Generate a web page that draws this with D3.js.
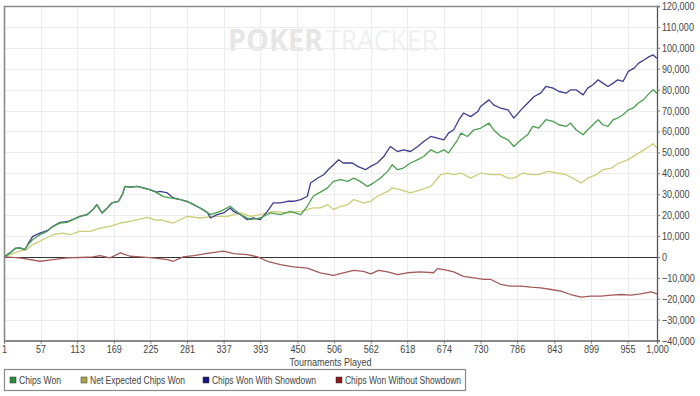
<!DOCTYPE html>
<html>
<head>
<meta charset="utf-8">
<script src="https://d3js.org/d3.v7.min.js"></script>
<style>
  html, body { margin: 0; padding: 0; background: #fff; }
  svg { display: block; font-family: "Liberation Sans", Arial, sans-serif; }
</style>
</head>
<body>
<script>
(function () {
    'use strict';

    // tournament number, chips
    var chipsWon = [
        [1, 0], [10, 1900], [18, 4000], [25, 4300], [33, 3500], [38, 5900], [45, 8300], [56, 10600],
        [67, 12200], [76, 14600], [87, 16200], [97, 16500], [107, 17800], [117, 19400], [128, 20200],
        [137, 22600], [143, 25000], [151, 21000], [159, 23400], [166, 25800], [176, 26600], [182, 29700],
        [186, 33700], [194, 33400], [205, 33700], [214, 33000], [225, 32100], [235, 30600], [245, 28800],
        [255, 28200], [271, 27400], [286, 25800], [301, 23400], [317, 20200], [332, 21800], [347, 24200],
        [363, 20200], [378, 17800], [393, 18600], [409, 21000], [424, 20200], [439, 21800], [455, 20200],
        [465, 24200], [474, 29000], [485, 31000], [496, 33000], [505, 36100], [516, 36900], [527, 36100],
        [536, 37700], [546, 36100], [557, 33700], [566, 35300], [577, 37700], [588, 40900], [595, 44100],
        [603, 41700], [612, 42500], [623, 44900], [634, 46500], [643, 48000], [654, 51200], [664, 49700],
        [674, 51200], [681, 49700], [695, 56000], [700, 59200], [710, 57600], [720, 60800], [730, 61500],
        [743, 64000], [750, 60800], [761, 57600], [772, 56000], [781, 52800], [792, 56000], [802, 58400],
        [810, 62400], [819, 61600], [830, 65600], [841, 64800], [850, 63200], [861, 62400], [868, 64000],
        [876, 60800], [887, 58400], [894, 60800], [902, 63200], [910, 65600], [917, 63200], [925, 62400],
        [933, 65600], [940, 66400], [948, 68000], [956, 70300], [963, 71100], [971, 73500], [979, 75100],
        [986, 77500], [994, 79900], [1000, 78300]
    ];

    var netExpected = [
        [1, 0], [10, 1100], [25, 2700], [36, 3500], [45, 5900], [61, 8300], [76, 10600], [91, 11400],
        [102, 10600], [117, 12200], [133, 12200], [148, 13800], [163, 14600], [179, 16200], [194, 17000],
        [209, 18100], [220, 18900], [235, 17500], [240, 17800], [260, 16200], [281, 19400], [301, 18600],
        [321, 19400], [343, 19400], [363, 21000], [378, 19400], [393, 20200], [413, 21800], [435, 21000],
        [455, 21800], [474, 23400], [485, 23400], [496, 25000], [505, 22600], [516, 24200], [527, 25000],
        [536, 27400], [551, 25800], [562, 26600], [572, 29000], [588, 31300], [595, 33000], [608, 32100],
        [623, 30600], [638, 32100], [654, 33700], [669, 39300], [680, 40100], [689, 39300], [700, 40100],
        [715, 37700], [730, 40100], [746, 39300], [761, 39300], [772, 37700], [781, 37700], [795, 40100],
        [807, 39300], [819, 39300], [833, 40900], [848, 40100], [861, 39300], [871, 37700], [884, 35300],
        [894, 37700], [907, 39300], [917, 41700], [930, 42500], [942, 44900], [956, 46500], [968, 48900],
        [980, 51200], [994, 54100], [1000, 52100]
    ];

    var withShowdown = [
        [1, 0], [10, 1900], [18, 4000], [25, 4300], [33, 3500], [38, 6300], [45, 9800], [56, 11400],
        [67, 12500], [76, 14600], [87, 16500], [97, 16800], [107, 18000], [117, 19400], [128, 20200],
        [137, 22600], [143, 25000], [151, 21000], [159, 23400], [166, 25800], [176, 26600], [182, 29700],
        [186, 33700], [194, 33400], [205, 33700], [214, 33000], [225, 32100], [235, 31000], [240, 31300],
        [251, 30600], [260, 28200], [271, 27400], [281, 26600], [291, 25000], [301, 23400], [312, 21300],
        [317, 18600], [327, 20200], [337, 21000], [347, 23400], [352, 21800], [363, 20200], [373, 17800],
        [383, 18600], [393, 17800], [404, 21800], [413, 25800], [424, 25800], [435, 26600], [444, 26600],
        [455, 27400], [465, 29000], [470, 35300], [481, 37700], [490, 39300], [497, 41700], [505, 44100],
        [513, 46500], [520, 44900], [534, 44900], [542, 43300], [554, 41700], [562, 43300], [572, 44900],
        [582, 48000], [592, 52800], [603, 50400], [612, 51200], [623, 50400], [634, 52800], [643, 55200],
        [654, 57600], [664, 56800], [674, 56000], [681, 59200], [689, 60800], [697, 65600], [704, 68800],
        [715, 67100], [726, 69500], [730, 71900], [743, 75100], [750, 72700], [761, 71100], [772, 70300],
        [781, 66400], [792, 70300], [802, 73500], [812, 76700], [822, 78300], [830, 81500], [841, 80700],
        [850, 79100], [861, 78300], [868, 79900], [876, 79900], [887, 77500], [894, 80700], [902, 82300],
        [910, 84700], [917, 83100], [925, 81500], [933, 83100], [940, 84700], [948, 83900], [956, 88700],
        [965, 90300], [972, 92700], [980, 94200], [988, 95800], [994, 96600], [1000, 95000]
    ];

    var withoutShowdown = [
        [1, 0], [25, -500], [56, -2100], [76, -1300], [97, -500], [117, -300], [137, 0], [148, 600],
        [163, -500], [179, 1900], [194, 300], [209, 0], [229, -500], [251, -1300], [260, -2100], [275, 0],
        [291, 600], [317, 1900], [337, 2700], [352, 1600], [373, 1100], [389, 0], [404, -2100], [424, -3700],
        [444, -4800], [465, -5400], [485, -7600], [505, -8800], [520, -7600], [536, -6500], [551, -6900],
        [562, -8100], [574, -6500], [588, -7200], [603, -8500], [618, -7600], [638, -7200], [658, -7600],
        [664, -5600], [674, -6100], [689, -7200], [704, -9300], [720, -10000], [735, -10800], [746, -10800],
        [761, -13200], [776, -14000], [792, -14000], [807, -14500], [822, -14800], [838, -15600],
        [853, -16400], [868, -18000], [884, -19300], [899, -18800], [914, -18800], [930, -18300],
        [945, -18000], [960, -18300], [975, -17700], [991, -16700], [1000, -17700]
    ];

    var xTicks = [1, 57, 113, 169, 225, 281, 337, 393, 450, 506, 562, 618, 674, 730, 786, 843, 899, 955, 1000];
    var yTicks = d3.range(-40000, 120001, 10000);

    var seriesNames = ['Chips Won', 'Net Expected Chips Won', 'Chips Won With Showdown', 'Chips Won Without Showdown'];
    var lineColors = ['#4a9e4f', '#cccc78', '#3d3d8f', '#a35a5a'];
    var legendColors = ['#2c8c3c', '#a8a448', '#161680', '#8a1a1a'];

    var width = 700;
    var height = 396;
    var left = 4, right = 657, top = 6, bottom = 340.5;
    var narrow = 0.82;  // the original uses a narrow face

    var x = d3.scaleLinear().domain([1, 1000]).range([left, right]);
    var y = d3.scaleLinear().domain([-40000, 120000]).range([bottom, top]);

    var svg = d3.select('body')
        .append('svg')
        .attr('width', width)
        .attr('height', height)
        ;

    function squeeze(sel) {
        sel.each(function () {
            var w = this.getComputedTextLength();
            d3.select(this)
                .attr('textLength', (w * narrow).toFixed(1))
                .attr('lengthAdjust', 'spacingAndGlyphs');
        });
    }

    // watermark
    var wm = svg.append('text')
        .attr('x', 228)
        .attr('y', 51)
        .attr('font-size', 30)
        .attr('font-family', '"Open Sans", "Liberation Sans", sans-serif')
        ;
    wm.append('tspan')
        .attr('font-weight', 'bold')
        .attr('fill', '#e6e6e6')
        .attr('textLength', 95)
        .attr('lengthAdjust', 'spacingAndGlyphs')
        .text('POKER');
    wm.append('tspan')
        .attr('fill', '#f0f0f0')
        .attr('dx', 3)
        .attr('textLength', 112)
        .attr('lengthAdjust', 'spacingAndGlyphs')
        .text('TRACKER');

    // grid
    svg.append('g')
        .selectAll('line')
        .data(yTicks)
        .enter()
        .append('line')
        .attr('x1', left)
        .attr('x2', right)
        .attr('y1', function (d) { return Math.round(y(d)) + 0.5; })
        .attr('y2', function (d) { return Math.round(y(d)) + 0.5; })
        .attr('stroke', '#ececec')
        ;

    svg.append('g')
        .selectAll('line')
        .data(xTicks)
        .enter()
        .append('line')
        .attr('x1', function (d) { return Math.round(x(d)) + 0.5; })
        .attr('x2', function (d) { return Math.round(x(d)) + 0.5; })
        .attr('y1', top)
        .attr('y2', bottom)
        .attr('stroke', '#ececec')
        ;

    // zero line
    svg.append('line')
        .attr('x1', left)
        .attr('x2', right)
        .attr('y1', Math.round(y(0)) + 0.5)
        .attr('y2', Math.round(y(0)) + 0.5)
        .attr('stroke', '#333')
        .attr('stroke-width', 1.2)
        ;

    // series
    var line = d3.line()
        .x(function (d) { return x(d[0]); })
        .y(function (d) { return y(d[1]); })
        ;

    var order = [1, 2, 0, 3];
    var allSeries = [chipsWon, netExpected, withShowdown, withoutShowdown];
    order.forEach(function (i) {
        svg.append('path')
            .datum(allSeries[i])
            .attr('d', line)
            .attr('fill', 'none')
            .attr('stroke', lineColors[i])
            .attr('stroke-width', 1.3)
            .attr('stroke-linejoin', 'round')
            ;
    });

    // frame
    svg.append('path')
        .attr('d', 'M' + (left + 0.5) + ',' + bottom + 'V' + (top + 0.5) + 'H' + right)
        .attr('fill', 'none')
        .attr('stroke', '#8a8a8a')
        .attr('stroke-width', 1.6)
        ;

    // right axis
    var yAxis = d3.axisRight(y)
        .tickValues(yTicks)
        .tickFormat(d3.format(','))
        .tickSize(3)
        .tickPadding(2)
        ;
    var ga = svg.append('g')
        .attr('transform', 'translate(' + right + ',0)')
        .call(yAxis)
        .attr('font-family', null)
        ;
    ga.select('.domain').attr('stroke', '#555').attr('stroke-width', 1.3);
    ga.selectAll('.tick line').attr('stroke', '#777');
    ga.selectAll('.tick text')
        .attr('fill', '#444')
        .attr('font-size', 11)
        .call(squeeze)
        ;

    // bottom axis
    var xAxis = d3.axisBottom(x)
        .tickValues(xTicks)
        .tickFormat(d3.format(','))
        .tickSize(3)
        .tickPadding(2)
        ;
    var gx = svg.append('g')
        .attr('transform', 'translate(0,' + bottom + ')')
        .call(xAxis)
        .attr('font-family', null)
        ;
    gx.select('.domain').attr('stroke', '#666').attr('stroke-width', 1.3);
    gx.selectAll('.tick line').attr('stroke', '#777');
    gx.selectAll('.tick text')
        .attr('fill', '#444')
        .attr('font-size', 11)
        .call(squeeze)
        ;

    svg.append('text')
        .attr('x', (left + right) / 2)
        .attr('y', 366)
        .attr('text-anchor', 'middle')
        .attr('font-size', 11)
        .attr('fill', '#444')
        .text('Tournaments Played')
        .call(squeeze)
        ;

    // legend
    svg.append('rect')
        .attr('x', 4.5)
        .attr('y', 369.5)
        .attr('width', 461)
        .attr('height', 21)
        .attr('fill', '#fff')
        .attr('stroke', '#8a8a8a')
        .attr('stroke-width', 1.2)
        ;

    var legendX = [10, 81, 203, 336];
    var legendW = [42, 95, 104, 116];
    var items = svg.selectAll('g.legend')
        .data(seriesNames)
        .enter()
        .append('g')
        .attr('class', 'legend')
        .attr('transform', function (d, i) { return 'translate(' + legendX[i] + ',380)'; })
        ;
    items.append('rect')
        .attr('x', 0)
        .attr('y', -3)
        .attr('width', 6)
        .attr('height', 6)
        .attr('fill', function (d, i) { return legendColors[i]; })
        .attr('stroke', '#333')
        .attr('stroke-width', 0.5)
        ;
    items.append('text')
        .attr('x', 9)
        .attr('y', 4)
        .attr('font-size', 11)
        .attr('fill', '#444')
        .attr('textLength', function (d, i) { return legendW[i]; })
        .attr('lengthAdjust', 'spacingAndGlyphs')
        .text(function (d) { return d; })
        ;
})();
</script>
</body>
</html>
